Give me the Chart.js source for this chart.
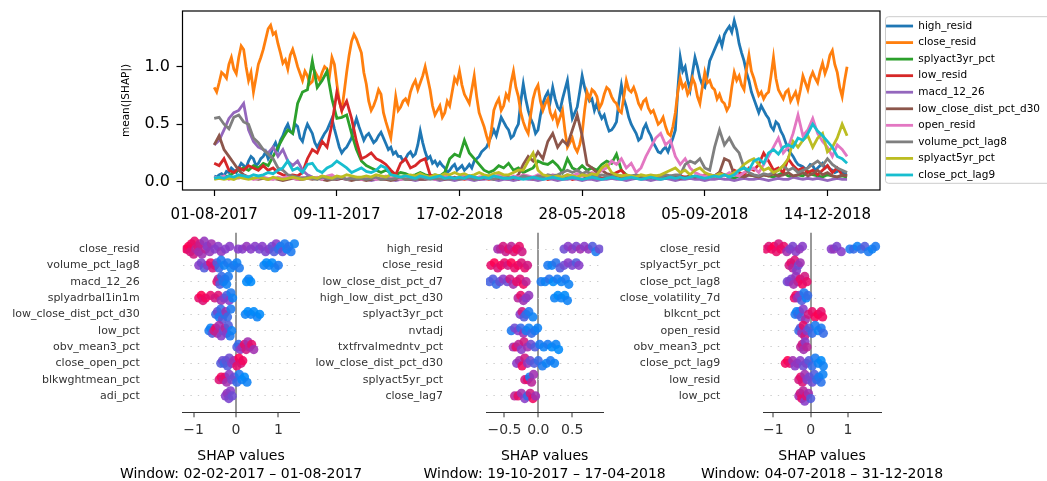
<!DOCTYPE html>
<html>
<head>
<meta charset="utf-8">
<script src="https://cdn.jsdelivr.net/npm/chart.js@4.4.0/dist/chart.umd.min.js"></script>
<style>
  body { margin: 0; background: #fff; overflow: hidden; }
  #page { position: relative; width: 1047px; height: 481px; overflow: hidden; background: #fff; }
  canvas { position: absolute; }
</style>
</head>
<body>
<div id="page">
  <canvas id="trend" width="1100" height="240" style="left:0;top:0"></canvas>
  <canvas id="win1" width="380" height="260" style="left:0;top:225px"></canvas>
  <canvas id="win2" width="380" height="260" style="left:300px;top:225px"></canvas>
  <canvas id="win3" width="447" height="260" style="left:600px;top:225px"></canvas>
</div>
<script>
// ---- top chart: rolling mean(|SHAP|) from 01-08-2017 (day 0) to 31-12-2018 (day 516) ----
// high_resid and close_resid are read every 2 days, the others every 4 days
var tickDays = [0, 100, 200, 300, 400, 500];
var tickDates = ["01-08-2017", "09-11-2017", "17-02-2018", "28-05-2018", "05-09-2018", "14-12-2018"];
var yTicks = [0, 0.5, 1.0];

var highResid = [
  0.05, 0.04, 0.06, 0.07, 0.05, 0.09, 0.08, 0.12, 0.1, 0.08, 0.12, 0.16, 0.14, 0.12, 0.18, 0.22, 0.2, 0.14, 0.16, 0.2,
  0.22, 0.26, 0.2, 0.24, 0.3, 0.34, 0.28, 0.36, 0.4, 0.46, 0.5, 0.44, 0.42, 0.5, 0.48, 0.38, 0.35, 0.44, 0.5, 0.46,
  0.42, 0.34, 0.3, 0.34, 0.38, 0.42, 0.45, 0.5, 0.55, 0.46, 0.38, 0.3, 0.25, 0.28, 0.3, 0.34, 0.38, 0.48, 0.55, 0.48,
  0.42, 0.36, 0.4, 0.42, 0.38, 0.34, 0.36, 0.4, 0.43, 0.38, 0.33, 0.28, 0.3, 0.24, 0.26, 0.22, 0.22, 0.18, 0.2, 0.24,
  0.26, 0.22, 0.24, 0.32, 0.44, 0.34, 0.26, 0.2, 0.22, 0.16, 0.18, 0.14, 0.17, 0.14, 0.12, 0.08, 0.1, 0.13, 0.15, 0.1,
  0.12, 0.14, 0.1, 0.12, 0.15, 0.12, 0.18, 0.2, 0.22, 0.26, 0.28, 0.3, 0.35, 0.4, 0.45, 0.4, 0.48, 0.56, 0.52, 0.48,
  0.45, 0.38, 0.4, 0.46, 0.5, 0.7, 0.85, 0.72, 0.62, 0.55, 0.5, 0.42, 0.45, 0.58, 0.68, 0.74, 0.78, 0.7, 0.82, 0.72,
  0.65, 0.62, 0.72, 0.8, 0.88, 0.7, 0.55, 0.6, 0.65, 0.78, 0.92, 0.82, 0.75, 0.7, 0.72, 0.62, 0.68, 0.6, 0.55, 0.58,
  0.5, 0.44, 0.45, 0.48, 0.52, 0.7, 0.84, 0.72, 0.65, 0.56, 0.5, 0.46, 0.42, 0.36, 0.38, 0.46, 0.5, 0.44, 0.4, 0.34,
  0.3, 0.26, 0.25, 0.28, 0.3, 0.26, 0.32, 0.38, 0.45, 0.8, 1.08, 0.96, 1.0, 0.88, 0.8, 0.95, 1.08, 1.0, 0.9, 0.84,
  0.82, 0.92, 1.05, 1.1, 1.15, 1.2, 1.25, 1.18, 1.28, 1.32, 1.35, 1.3, 1.4, 1.32, 1.2, 1.12, 1.05, 0.95, 0.88, 0.78,
  0.72, 0.66, 0.6, 0.66, 0.62, 0.58, 0.55, 0.48, 0.45, 0.52, 0.5, 0.44, 0.4, 0.34, 0.28, 0.25, 0.22, 0.18, 0.15, 0.14,
  0.13, 0.11, 0.12, 0.15, 0.14, 0.1, 0.12, 0.14, 0.16, 0.12, 0.14, 0.11, 0.1, 0.08, 0.09, 0.1, 0.08, 0.07, 0.07
];
var closeResid = [
  0.82, 0.78, 0.86, 0.95, 0.93, 0.9, 1.02, 1.08, 0.98, 0.94, 1.08, 1.18, 1.15, 1.0, 0.88, 0.95, 0.78, 0.9, 1.02, 1.08,
  1.15, 1.24, 1.33, 1.36, 1.28, 1.3, 1.2, 1.12, 1.03, 1.06, 0.98, 1.1, 1.15, 1.08, 1.0, 0.94, 0.88, 0.96, 0.92, 0.85,
  0.87, 0.96, 0.92, 0.88, 0.95, 1.0, 0.98, 0.92, 1.08, 1.02, 0.85, 0.7, 0.62, 0.78, 0.95, 1.1, 1.22, 1.28, 1.24, 1.18,
  1.12, 0.95, 0.85, 0.7, 0.62, 0.66, 0.72, 0.8, 0.76, 0.6, 0.52, 0.45, 0.38, 0.55, 0.74, 0.62, 0.65, 0.7, 0.72, 0.68,
  0.78, 0.84, 0.88, 0.8, 0.86, 0.92, 1.0, 0.9, 0.8, 0.66, 0.58, 0.62, 0.66, 0.56, 0.6, 0.7, 0.66, 0.78, 0.9, 0.86,
  0.96, 0.84, 0.76, 0.72, 0.68, 0.8, 0.92, 0.74, 0.6, 0.54, 0.48, 0.4, 0.33, 0.45, 0.62, 0.68, 0.72, 0.62, 0.66, 0.76,
  0.72, 0.86, 0.96, 0.82, 0.74, 0.6, 0.52, 0.46, 0.42, 0.58, 0.72, 0.8, 0.84, 0.7, 0.62, 0.68, 0.72, 0.6, 0.55, 0.6,
  0.5, 0.56, 0.62, 0.44, 0.3, 0.34, 0.38, 0.3, 0.26, 0.32, 0.42, 0.62, 0.78, 0.72, 0.8, 0.78, 0.74, 0.64, 0.68, 0.76,
  0.82, 0.8, 0.74, 0.7, 0.68, 0.62, 0.6, 0.74, 0.88, 0.8, 0.78, 0.82, 0.76, 0.68, 0.64, 0.7, 0.72, 0.64, 0.6, 0.62,
  0.56, 0.5, 0.52, 0.56, 0.48, 0.42, 0.4, 0.48, 0.6, 0.78, 0.9, 0.82, 0.85, 0.76, 0.8, 0.9, 0.85, 0.74, 0.68, 0.82,
  0.95, 0.86, 0.88, 0.82, 0.8, 0.72, 0.76, 0.7, 0.68, 0.62, 0.66, 0.82, 0.95, 0.88, 0.92, 0.84, 0.8, 0.98, 1.1, 0.96,
  0.9, 0.82, 0.75, 0.78, 0.72, 0.76, 0.78, 0.92, 1.08, 0.9, 0.8, 0.76, 0.72, 0.78, 0.8, 0.7, 0.74, 0.78, 0.7, 0.8,
  0.92, 0.86, 0.8, 0.9, 0.95, 0.9, 0.86, 0.96, 1.03, 0.94, 1.0, 1.1, 1.14, 1.02, 0.95, 0.82, 0.74, 0.88, 1.0
];
var splyact3yrPct = [
  0.03, 0.03, 0.04, 0.05, 0.08, 0.1, 0.12, 0.1, 0.14, 0.12,
  0.16, 0.14, 0.22, 0.3, 0.38, 0.45, 0.42, 0.68, 0.78, 0.8,
  1.05, 0.82, 0.88, 0.96, 0.72, 0.55, 0.56, 0.58, 0.42, 0.28,
  0.18, 0.14, 0.12, 0.1, 0.08, 0.1, 0.08, 0.06, 0.08, 0.07,
  0.05, 0.06, 0.08, 0.06, 0.05, 0.06, 0.05, 0.08, 0.2, 0.24,
  0.22, 0.36, 0.25, 0.2, 0.15, 0.1, 0.08, 0.1, 0.14, 0.12,
  0.16, 0.1, 0.12, 0.08, 0.1, 0.12, 0.18, 0.16, 0.15, 0.18,
  0.14, 0.08, 0.2, 0.12, 0.1, 0.14, 0.1, 0.12, 0.1, 0.15,
  0.18, 0.16, 0.24, 0.1, 0.06, 0.04, 0.04, 0.03, 0.03, 0.04,
  0.03, 0.03, 0.04, 0.03, 0.03, 0.04, 0.03, 0.05, 0.04, 0.03,
  0.04, 0.03, 0.05, 0.04, 0.06, 0.04, 0.03, 0.05, 0.04, 0.06,
  0.05, 0.04, 0.06, 0.05, 0.04, 0.06, 0.08, 0.05, 0.04, 0.06,
  0.05, 0.09, 0.06, 0.05, 0.04, 0.06, 0.05, 0.04, 0.05, 0.04
];
var lowResid = [
  0.16, 0.14, 0.2, 0.1, 0.08, 0.12, 0.1, 0.14, 0.12, 0.1,
  0.14, 0.1, 0.12, 0.08, 0.06, 0.05, 0.06, 0.05, 0.08, 0.2,
  0.28, 0.25, 0.35, 0.3, 0.5, 0.78, 0.62, 0.7, 0.55, 0.35,
  0.2, 0.22, 0.25, 0.2, 0.18, 0.15, 0.1, 0.06, 0.16, 0.2,
  0.12, 0.14, 0.18, 0.2, 0.06, 0.04, 0.03, 0.04, 0.03, 0.02,
  0.03, 0.02, 0.03, 0.04, 0.02, 0.03, 0.02, 0.03, 0.02, 0.03,
  0.02, 0.03, 0.02, 0.04, 0.03, 0.02, 0.03, 0.04, 0.02, 0.03,
  0.02, 0.03, 0.04, 0.02, 0.03, 0.02, 0.04, 0.03, 0.05, 0.03,
  0.04, 0.06, 0.08, 0.1, 0.05, 0.04, 0.03, 0.05, 0.04, 0.03,
  0.04, 0.03, 0.05, 0.04, 0.03, 0.05, 0.04, 0.03, 0.05, 0.04,
  0.06, 0.04, 0.05, 0.08, 0.06, 0.05, 0.1, 0.08, 0.06, 0.12,
  0.1, 0.15, 0.25, 0.18, 0.1, 0.12, 0.08, 0.2, 0.14, 0.1,
  0.12, 0.08, 0.1, 0.06, 0.1, 0.14, 0.08, 0.12, 0.06, 0.05
];
var macd1226 = [
  0.32, 0.36, 0.45, 0.55, 0.6, 0.62, 0.68, 0.45, 0.35, 0.3,
  0.28, 0.25, 0.3, 0.22, 0.28, 0.18, 0.14, 0.18, 0.1, 0.06,
  0.04, 0.03, 0.05, 0.03, 0.04, 0.02, 0.03, 0.02, 0.03, 0.02,
  0.03, 0.02, 0.01, 0.02, 0.03, 0.02, 0.02, 0.01, 0.02, 0.03,
  0.02, 0.01, 0.02, 0.02, 0.03, 0.02, 0.01, 0.02, 0.02, 0.01,
  0.02, 0.03, 0.02, 0.01, 0.02, 0.02, 0.03, 0.02, 0.01, 0.02,
  0.02, 0.01, 0.02, 0.03, 0.02, 0.02, 0.01, 0.02, 0.03, 0.02,
  0.01, 0.02, 0.02, 0.03, 0.02, 0.01, 0.02, 0.02, 0.01, 0.02,
  0.02, 0.03, 0.02, 0.02, 0.01, 0.02, 0.03, 0.02, 0.02, 0.01,
  0.02, 0.02, 0.03, 0.02, 0.01, 0.02, 0.02, 0.03, 0.02, 0.02,
  0.01, 0.02, 0.02, 0.03, 0.02, 0.02, 0.01, 0.02, 0.03, 0.02,
  0.02, 0.03, 0.02, 0.01, 0.02, 0.03, 0.02, 0.02, 0.04, 0.03,
  0.02, 0.03, 0.02, 0.03, 0.02, 0.01, 0.02, 0.03, 0.02, 0.02
];
var lowCloseDistPctD30 = [
  0.32, 0.4, 0.28, 0.22, 0.16, 0.1, 0.06, 0.04, 0.03, 0.02,
  0.03, 0.02, 0.03, 0.02, 0.01, 0.02, 0.03, 0.02, 0.02, 0.03,
  0.02, 0.03, 0.02, 0.01, 0.02, 0.02, 0.03, 0.02, 0.01, 0.02,
  0.02, 0.01, 0.02, 0.03, 0.02, 0.02, 0.01, 0.02, 0.03, 0.02,
  0.02, 0.03, 0.02, 0.02, 0.03, 0.04, 0.03, 0.02, 0.03, 0.04,
  0.03, 0.04, 0.05, 0.03, 0.04, 0.03, 0.05, 0.04, 0.03, 0.05,
  0.04, 0.03, 0.06, 0.15, 0.22, 0.18, 0.26, 0.2, 0.35, 0.42,
  0.3, 0.36, 0.32, 0.45, 0.58, 0.4, 0.15, 0.12, 0.08, 0.1,
  0.07, 0.06, 0.05, 0.04, 0.05, 0.04, 0.03, 0.04, 0.03, 0.04,
  0.03, 0.04, 0.03, 0.05, 0.04, 0.03, 0.04, 0.05, 0.04, 0.05,
  0.04, 0.06, 0.05, 0.08, 0.2, 0.18, 0.06, 0.05, 0.04, 0.06,
  0.05, 0.04, 0.06, 0.05, 0.07, 0.05, 0.06, 0.08, 0.05, 0.06,
  0.08, 0.05, 0.07, 0.1, 0.06, 0.08, 0.05, 0.04, 0.06, 0.05
];
var openResid = [
  0.04, 0.03, 0.05, 0.02, 0.04, 0.03, 0.05, 0.04, 0.02, 0.03,
  0.04, 0.03, 0.02, 0.04, 0.03, 0.05, 0.03, 0.02, 0.04, 0.03,
  0.03, 0.04, 0.02, 0.05, 0.06, 0.03, 0.04, 0.02, 0.03, 0.04,
  0.02, 0.03, 0.04, 0.02, 0.03, 0.05, 0.03, 0.04, 0.02, 0.03,
  0.05, 0.04, 0.06, 0.03, 0.04, 0.02, 0.03, 0.05, 0.04, 0.03,
  0.04, 0.06, 0.05, 0.03, 0.04, 0.05, 0.03, 0.04, 0.06, 0.04,
  0.03, 0.05, 0.04, 0.06, 0.05, 0.04, 0.06, 0.05, 0.04, 0.06,
  0.05, 0.04, 0.06, 0.05, 0.07, 0.05, 0.06, 0.08, 0.06, 0.1,
  0.12, 0.18, 0.15, 0.2, 0.12, 0.16, 0.08, 0.12, 0.22, 0.3,
  0.38, 0.42, 0.32, 0.36, 0.22, 0.15, 0.2, 0.12, 0.08, 0.06,
  0.05, 0.04, 0.05, 0.06, 0.05, 0.08, 0.06, 0.05, 0.08, 0.1,
  0.12, 0.08, 0.15, 0.22, 0.3, 0.38, 0.25, 0.3, 0.42, 0.58,
  0.4, 0.45, 0.55, 0.42, 0.35, 0.3, 0.22, 0.32, 0.28, 0.22
];
var volumePctLag8 = [
  0.55, 0.56, 0.5, 0.46, 0.56, 0.58, 0.52, 0.5, 0.38, 0.34,
  0.28, 0.24, 0.2, 0.12, 0.1, 0.06, 0.05, 0.04, 0.03, 0.04,
  0.03, 0.02, 0.04, 0.03, 0.02, 0.03, 0.04, 0.02, 0.03, 0.02,
  0.03, 0.02, 0.03, 0.04, 0.02, 0.03, 0.02, 0.03, 0.04, 0.02,
  0.03, 0.02, 0.04, 0.03, 0.02, 0.03, 0.02, 0.03, 0.02, 0.03,
  0.02, 0.03, 0.04, 0.02, 0.03, 0.04, 0.03, 0.02, 0.04, 0.03,
  0.03, 0.04, 0.03, 0.05, 0.04, 0.03, 0.05, 0.04, 0.06, 0.05,
  0.06, 0.08, 0.1, 0.08, 0.1, 0.07, 0.09, 0.06, 0.05, 0.06,
  0.05, 0.04, 0.06, 0.05, 0.04, 0.05, 0.06, 0.05, 0.04, 0.05,
  0.05, 0.04, 0.06, 0.05, 0.06, 0.06, 0.15, 0.18, 0.16, 0.2,
  0.12, 0.1, 0.3, 0.45, 0.32, 0.38, 0.3, 0.25, 0.12, 0.08,
  0.06, 0.05, 0.07, 0.06, 0.08, 0.1, 0.14, 0.1, 0.12, 0.08,
  0.1, 0.12, 0.15, 0.18, 0.14, 0.2, 0.15, 0.12, 0.1, 0.08
];
var splyact5yrPct = [
  0.02, 0.03, 0.02, 0.03, 0.02, 0.04, 0.03, 0.02, 0.03, 0.04,
  0.03, 0.02, 0.04, 0.03, 0.02, 0.03, 0.04, 0.03, 0.02, 0.03,
  0.04, 0.03, 0.05, 0.04, 0.03, 0.05, 0.04, 0.06, 0.05, 0.04,
  0.04, 0.05, 0.04, 0.06, 0.05, 0.04, 0.06, 0.05, 0.04, 0.05,
  0.06, 0.05, 0.07, 0.05, 0.04, 0.06, 0.05, 0.07, 0.06, 0.08,
  0.06, 0.07, 0.05, 0.06, 0.08, 0.06, 0.05, 0.07, 0.08, 0.06,
  0.06, 0.08, 0.1, 0.1, 0.18, 0.25, 0.1, 0.06, 0.05, 0.04,
  0.05, 0.04, 0.06, 0.05, 0.04, 0.06, 0.05, 0.07, 0.06, 0.12,
  0.15, 0.08, 0.06, 0.05, 0.06, 0.05, 0.04, 0.06, 0.05, 0.06,
  0.05, 0.06, 0.08, 0.1, 0.12, 0.08, 0.1, 0.06, 0.1, 0.12,
  0.08, 0.06, 0.05, 0.07, 0.06, 0.05, 0.08, 0.1, 0.15, 0.18,
  0.2, 0.15, 0.1, 0.12, 0.08, 0.1, 0.14, 0.2, 0.35, 0.3,
  0.36, 0.4, 0.3, 0.38, 0.42, 0.26, 0.3, 0.38, 0.5, 0.4
];
var closePctLag9 = [
  0.03, 0.04, 0.03, 0.05, 0.04, 0.06, 0.05, 0.04, 0.06, 0.05,
  0.06, 0.08, 0.07, 0.1, 0.12, 0.18, 0.1, 0.12, 0.08, 0.15,
  0.16, 0.1, 0.08, 0.12, 0.14, 0.18, 0.15, 0.12, 0.08, 0.1,
  0.12, 0.09, 0.08, 0.1, 0.14, 0.12, 0.06, 0.05, 0.04, 0.05,
  0.04, 0.03, 0.05, 0.04, 0.03, 0.04, 0.05, 0.03, 0.04, 0.03,
  0.04, 0.03, 0.05, 0.04, 0.03, 0.04, 0.03, 0.05, 0.04, 0.03,
  0.03, 0.04, 0.03, 0.02, 0.03, 0.04, 0.03, 0.02, 0.03, 0.04,
  0.03, 0.02, 0.03, 0.04, 0.03, 0.02, 0.03, 0.04, 0.03, 0.02,
  0.03, 0.04, 0.03, 0.02, 0.03, 0.04, 0.03, 0.02, 0.03, 0.04,
  0.03, 0.02, 0.03, 0.04, 0.03, 0.04, 0.03, 0.04, 0.05, 0.04,
  0.03, 0.04, 0.05, 0.04, 0.06, 0.04, 0.06, 0.1, 0.12, 0.1,
  0.18, 0.2, 0.16, 0.25, 0.28, 0.24, 0.3, 0.32, 0.3, 0.38,
  0.36, 0.42, 0.5, 0.44, 0.4, 0.35, 0.3, 0.22, 0.2, 0.16
];

var seriesNames = ["high_resid", "close_resid", "splyact3yr_pct", "low_resid", "macd_12_26",
  "low_close_dist_pct_d30", "open_resid", "volume_pct_lag8", "splyact5yr_pct", "close_pct_lag9"];
var seriesValues = [highResid, closeResid, splyact3yrPct, lowResid, macd1226,
  lowCloseDistPctD30, openResid, volumePctLag8, splyact5yrPct, closePctLag9];
var seriesStepDays = [2, 2, 4, 4, 4, 4, 4, 4, 4, 4];
var seriesColors = ["#1f77b4", "#ff7f0e", "#2ca02c", "#d62728", "#9467bd",
  "#8c564b", "#e377c2", "#7f7f7f", "#bcbd22", "#17becf"];

// ---- bottom: SHAP beeswarm per window, [shap value, feature value 0..1] ----
var win1Features = ["close_resid", "volume_pct_lag8", "macd_12_26", "splyadrbal1in1m", "low_close_dist_pct_d30",
  "low_pct", "obv_mean3_pct", "close_open_pct", "blkwghtmean_pct", "adi_pct"];
var win1Points = [
  [[-1.18,0.95],[-1.15,0.9],[-1.12,1],[-1.08,0.85],[-1.05,0.95],[-1.0,0.8],[-0.98,0.9],[-0.95,0.7],[-0.9,0.85],[-0.88,0.6],
   [-0.85,0.75],[-0.8,0.6],[-0.75,0.55],[-0.72,0.7],[-0.68,0.5],[-0.62,0.55],[-0.58,0.6],[-0.5,0.5],[-0.42,0.5],[-0.35,0.55],
   [-0.25,0.5],[-0.15,0.5],[0.05,0.5],[0.15,0.5],[0.25,0.55],[0.35,0.5],[0.45,0.5],[0.55,0.45],[0.62,0.5],[0.7,0.45],
   [0.78,0.5],[0.85,0.4],[0.9,0.3],[0.95,0.5],[1.0,0.2],[1.05,0.1],[1.1,0.4],[1.15,0.1],[1.2,0.05],[1.25,0.15],[1.3,0.1],[1.38,0.05]],
  [[-0.88,0.5],[-0.82,0.45],[-0.75,0.3],[-0.68,0.5],[-0.6,0.9],[-0.55,0.8],[-0.5,0.85],[-0.45,0.3],[-0.4,0.2],[-0.35,0.1],
   [-0.28,0.05],[-0.2,0.1],[-0.12,0.05],[-0.05,0.1],[0.02,0.05],[0.08,0.1],[0.66,0.05],[0.72,0.0],[0.78,0.05],[0.85,0.0],[0.92,0.05],[1.0,0.1]],
  [[-0.45,0.9],[-0.42,0.7],[-0.38,0.3],[-0.34,0.2],[-0.3,0.1],[-0.26,0.15],[-0.22,0.05],[-0.18,0.1],[0.25,0.0],[0.3,0.05],[0.35,0.0]],
  [[-0.88,0.9],[-0.82,1],[-0.78,0.85],[-0.72,0.95],[-0.6,0.9],[-0.5,0.8],[-0.42,0.85],[-0.35,0.6],[-0.28,0.5],[-0.22,0.3],
   [-0.16,0.5],[-0.12,0.1],[-0.08,0.05]],
  [[-0.48,0.2],[-0.44,0.4],[-0.4,0.1],[-0.36,0.2],[-0.32,0.35],[-0.28,0.15],[-0.24,0.6],[-0.2,0.2],[-0.12,0.1],
   [0.22,0.05],[0.28,0.0],[0.35,0.05],[0.42,0.0],[0.5,0.05],[0.56,0.0]],
  [[-0.64,0.1],[-0.6,0.05],[-0.56,0.3],[-0.52,0.8],[-0.48,0.9],[-0.44,0.7],[-0.4,0.6],[-0.35,0.5],[-0.3,0.4],[-0.26,0.7],
   [-0.22,0.5],[-0.18,0.3],[-0.14,0.1],[-0.1,0.05]],
  [[0.02,0.3],[0.06,0.2],[0.1,0.5],[0.15,0.6],[0.2,0.9],[0.24,0.8],[0.28,0.6],[0.32,0.7],[0.37,0.9],[0.42,0.6]],
  [[-0.36,0.3],[-0.32,0.4],[-0.28,0.2],[-0.24,0.35],[-0.2,0.3],[-0.16,0.4],[-0.1,0.5],[-0.05,0.6],[0.02,0.9],[0.07,1],[0.12,0.85],[0.16,0.95]],
  [[-0.4,0.85],[-0.35,0.95],[-0.3,0.8],[-0.26,0.9],[-0.22,0.6],[-0.16,0.5],[-0.1,0.45],[-0.04,0.4],[0.02,0.2],[0.08,0.1],[0.14,0.05],[0.2,0.0],[0.26,0.05]],
  [[-0.25,0.5],[-0.21,0.55],[-0.17,0.45],[-0.13,0.5],[-0.09,0.4]]
];

var win2Features = ["high_resid", "close_resid", "low_close_dist_pct_d7", "high_low_dist_pct_d30", "splyact3yr_pct",
  "nvtadj", "txtfrvalmedntv_pct", "low_close_dist_pct_d30", "splyact5yr_pct", "close_lag7"];
var win2Points = [
  [[-0.6,0.6],[-0.56,0.7],[-0.52,0.8],[-0.48,0.75],[-0.44,0.9],[-0.4,0.7],[-0.36,0.85],[-0.32,0.95],[-0.28,0.9],[-0.24,0.8],
   [0.38,0.4],[0.44,0.5],[0.5,0.55],[0.56,0.45],[0.62,0.6],[0.68,0.5],[0.74,0.55],[0.8,0.3],[0.85,0.1],[0.9,0.4]],
  [[-0.7,0.9],[-0.65,1],[-0.6,0.85],[-0.55,0.95],[-0.5,0.9],[-0.45,0.8],[-0.4,1],[-0.35,0.9],[-0.3,0.95],[-0.25,0.85],[-0.2,0.9],[-0.16,0.8],
   [0.14,0.1],[0.2,0.05],[0.26,0.15],[0.32,0.3],[0.38,0.4],[0.44,0.5],[0.5,0.45],[0.56,0.3],[0.6,0.5]],
  [[-0.72,0.25],[-0.67,0.3],[-0.62,0.2],[-0.57,0.35],[-0.52,0.5],[-0.46,0.4],[-0.42,0.8],[-0.37,0.6],[-0.32,0.9],[-0.27,0.85],[-0.22,0.95],[-0.18,0.7],
   [0.04,0.1],[0.1,0.05],[0.16,0.15],[0.22,0.0],[0.28,0.1],[0.34,0.05],[0.4,0.1],[0.45,0.05]],
  [[-0.3,0.7],[-0.26,0.9],[-0.22,0.6],[-0.18,0.5],[-0.14,0.55],[0.24,0.05],[0.29,0.0],[0.34,0.05],[0.39,0.0],[0.43,0.05]],
  [[-0.27,0.5],[-0.24,0.8],[-0.21,0.3],[-0.18,0.2],[-0.14,0.1],[-0.08,0.05]],
  [[-0.4,0.1],[-0.35,0.4],[-0.3,0.5],[-0.26,0.2],[-0.22,0.6],[-0.18,0.1],[-0.14,0.05],[-0.1,0.2],[-0.05,0.1],[-0.01,0.05]],
  [[-0.37,0.6],[-0.33,0.9],[-0.29,0.7],[-0.25,0.5],[-0.21,0.8],[-0.16,0.6],[-0.11,0.4],[-0.05,0.3],[0.02,0.1],[0.08,0.05],[0.14,0.1],[0.2,0.0],[0.26,0.05],[0.3,0.0]],
  [[-0.32,0.5],[-0.28,0.6],[-0.24,0.95],[-0.2,0.8],[-0.16,0.55],[-0.12,0.4],[-0.06,0.3],[0.0,0.2],[0.06,0.1],[0.12,0.05],[0.18,0.1],[0.24,0.05]],
  [[-0.2,0.8],[-0.16,0.9],[-0.13,0.1],[-0.1,0.7],[-0.07,0.6]],
  [[-0.35,0.7],[-0.3,0.9],[-0.25,0.6],[-0.2,0.5],[-0.16,0.2],[-0.12,0.8],[-0.08,0.95],[-0.04,0.6]]
];

var win3Features = ["close_resid", "splyact5yr_pct", "close_pct_lag8", "close_volatility_7d", "blkcnt_pct",
  "open_resid", "obv_mean3_pct", "close_pct_lag9", "low_resid", "low_pct"];
var win3Points = [
  [[-1.2,0.9],[-1.12,0.85],[-1.05,0.95],[-0.98,1],[-0.92,0.9],[-0.86,0.8],[-0.8,0.95],[-0.72,0.9],[-0.64,0.6],[-0.56,0.5],
   [-0.48,0.45],[-0.4,0.5],[-0.3,0.55],[-0.22,0.5],[0.55,0.5],[0.62,0.55],[0.7,0.45],[0.82,0.5],[1.05,0.1],[1.15,0.2],
   [1.25,0.05],[1.35,0.15],[1.45,0.3],[1.55,0.1],[1.65,0.05],[1.74,0.1]],
  [[-0.58,0.8],[-0.53,0.9],[-0.48,0.7],[-0.43,0.85],[-0.38,0.5],[-0.33,0.4],[-0.28,0.6]],
  [[-0.63,0.4],[-0.58,0.5],[-0.52,0.45],[-0.46,0.6],[-0.4,0.55],[-0.34,0.7],[-0.28,0.9],[-0.22,0.95],[-0.16,0.8],[-0.1,0.9]],
  [[-0.44,0.9],[-0.4,0.95],[-0.36,0.6],[-0.3,0.5],[-0.24,0.3],[-0.18,0.1],[-0.12,0.05],[-0.08,0.2]],
  [[-0.42,0.1],[-0.38,0.05],[-0.34,0.2],[-0.3,0.1],[-0.25,0.3],[-0.2,0.5],[-0.14,0.6],[-0.06,0.8],[0.04,0.9],[0.12,0.95],[0.2,1],[0.28,0.9],[0.32,0.95]],
  [[-0.32,0.2],[-0.28,0.3],[-0.24,0.6],[-0.2,0.9],[-0.16,0.8],[-0.1,0.5],[-0.04,0.3],[0.04,0.2],[0.12,0.1],[0.2,0.05],[0.28,0.1],[0.34,0.2]],
  [[-0.27,0.7],[-0.23,0.8],[-0.19,0.6],[-0.15,0.5],[-0.1,0.7]],
  [[-0.68,0.95],[-0.62,1],[-0.56,0.9],[-0.48,0.6],[-0.42,0.5],[-0.36,0.55],[-0.28,0.5],[-0.2,0.4],[-0.12,0.45],[-0.05,0.3],
   [0.04,0.2],[0.12,0.1],[0.2,0.05],[0.28,0.0],[0.34,0.05]],
  [[-0.32,0.8],[-0.27,0.9],[-0.22,0.85],[-0.16,0.6],[-0.1,0.5],[-0.04,0.45],[0.04,0.4],[0.1,0.3],[0.16,0.2],[0.22,0.1],[0.28,0.15],[0.33,0.05]],
  [[-0.32,0.6],[-0.28,0.8],[-0.24,0.9],[-0.2,0.7],[-0.16,0.5],[-0.12,0.85],[-0.06,0.6],[0.0,0.3]]
];

Chart.defaults.font.family = '"DejaVu Sans", sans-serif';

// frame around the plot area (matplotlib box)
var plotFrame = {
  id: "plotFrame",
  afterDatasetsDraw: function (chart) {
    var a = chart.chartArea, ctx = chart.ctx;
    ctx.save();
    ctx.strokeStyle = "#000";
    ctx.lineWidth = 1.2;
    ctx.strokeRect(a.left, a.top, a.right - a.left, a.bottom - a.top);
    ctx.restore();
  }
};

// light rounded frame around the legend
var legendFrame = {
  id: "legendFrame",
  beforeDraw: function (chart) {
    var lg = chart.legend, a = chart.chartArea, ctx = chart.ctx;
    if (!lg) return;
    ctx.save();
    ctx.strokeStyle = "#cccccc";
    ctx.lineWidth = 1;
    ctx.beginPath();
    ctx.roundRect(lg.left + 5.5, a.top + 5.7, lg.width + 30, a.bottom - a.top - 12.4, 3);
    ctx.stroke();
    ctx.restore();
  }
};

// vertical scales add tick padding above and below; drop it so the plot box sits where the layout says
function fixVertical(width) {
  return function (s) {
    s.width = width;
    s.paddingTop = 0;
    s.paddingBottom = 0;
  };
}

var trendSets = seriesNames.map(function (name, i) {
  return {
    label: name,
    data: seriesValues[i].map(function (v, k) { return { x: k * seriesStepDays[i], y: v }; }),
    borderColor: seriesColors[i],
    backgroundColor: seriesColors[i],
    borderWidth: 2.8,
    pointRadius: 0,
    fill: false,
    order: seriesNames.length - i
  };
});

var trend = new Chart(document.getElementById("trend"), {
  type: "line",
  data: { datasets: trendSets },
  plugins: [plotFrame, legendFrame],
  options: {
    responsive: false,
    animation: false,
    devicePixelRatio: 1,
    layout: { padding: { left: 110, top: 11, right: 0, bottom: 0 } },
    plugins: {
      tooltip: { enabled: false },
      legend: {
        position: "right",
        align: "center",
        fullSize: false,
        labels: {
          usePointStyle: true,
          pointStyle: "line",
          pointStyleWidth: 27,
          font: { size: 10.5 },
          color: "#000",
          padding: 6.05,
          sort: function (a, b) { return a.datasetIndex - b.datasetIndex; }
        }
      }
    },
    scales: {
      x: {
        type: "linear",
        min: -25.85,
        max: 542.85,
        afterBuildTicks: function (s) { s.ticks = tickDays.map(function (v) { return { value: v }; }); },
        ticks: {
          autoSkip: false,
          maxRotation: 0,
          padding: 10,
          color: "#000",
          font: { size: 15 },
          callback: function (v, i) { return tickDates[i]; }
        },
        grid: { drawOnChartArea: false, tickLength: 6, tickColor: "#000", tickWidth: 1.2 },
        border: { display: false },
        afterFit: function (s) { s.height = 50; }
      },
      y: {
        min: -0.072,
        max: 1.484,
        afterBuildTicks: function (s) { s.ticks = yTicks.map(function (v) { return { value: v }; }); },
        ticks: {
          padding: 6.5,
          color: "#000",
          font: { size: 16 },
          callback: function (v) { return v.toFixed(1); }
        },
        grid: { drawOnChartArea: false, tickLength: 6, tickColor: "#000", tickWidth: 1.2 },
        border: { display: false },
        title: { display: true, text: "mean(|SHAP|)", color: "#000", font: { size: 10.5 }, padding: { top: 9.7, bottom: 0 } },
        afterFit: fixVertical(72.5)
      }
    }
  }
});
// keep the right edge of the plot box at x = 880
var extra = trend.chartArea.right - 880;
if (Math.abs(extra) > 0.3) {
  trend.options.layout.padding.right = Math.max(0, extra);
  trend.update("none");
}

// ---- beeswarm panels ----
var shapStops = [[0, 138, 250], [136, 60, 200], [255, 0, 82]];
function shapColor(v) {
  var t = Math.max(0, Math.min(1, v)) * 2;
  var k = t < 1 ? 0 : 1;
  var f = t - k;
  var a = shapStops[k], b = shapStops[k + 1];
  var c = a.map(function (ch, j) { return Math.round(ch + (b[j] - ch) * f); });
  return "rgba(" + c[0] + "," + c[1] + "," + c[2] + ",0.88)";
}

// simple beeswarm stacking like shap: points in the same x bin alternate up and down
function swarm(rows, binWidth) {
  var out = [];
  rows.forEach(function (row, r) {
    var rowY = rows.length - 1 - r;
    var sorted = row.slice().sort(function (a, b) { return a[0] - b[0]; });
    var lastBin = null, layer = 0;
    sorted.forEach(function (p) {
      var bin = Math.round(p[0] / binWidth);
      if (bin !== lastBin) layer = 0;
      var off = Math.ceil(layer / 2) * (layer % 2 ? 1 : -1) * 0.16;
      out.push({ x: p[0], y: rowY + off, v: p[1] });
      layer++;
      lastBin = bin;
    });
  });
  return out;
}

var windowLabel = {
  id: "windowLabel",
  afterDraw: function (chart, args, opts) {
    if (!opts.text) return;
    var a = chart.chartArea, ctx = chart.ctx;
    ctx.save();
    ctx.font = '14px "DejaVu Sans"';
    ctx.fillStyle = "#000";
    ctx.textAlign = "center";
    ctx.textBaseline = "middle";
    ctx.fillText(opts.text, (a.left + a.right) / 2, chart.height - 11);
    ctx.restore();
  }
};

function makeSwarm(id, features, rows, xMin, xMax, xTicks, xTickText, windowText, yWidth, padRight) {
  var canvas = document.getElementById(id);
  var plotPx = canvas.width - yWidth - padRight;
  var pts = swarm(rows, 9 * (xMax - xMin) / plotPx);
  return new Chart(canvas, {
    type: "scatter",
    data: {
      datasets: [{
        data: pts.map(function (p) { return { x: p.x, y: p.y }; }),
        backgroundColor: pts.map(function (p) { return shapColor(p.v); }),
        pointRadius: 4.6,
        pointHoverRadius: 4.6,
        pointBorderWidth: 0
      }]
    },
    plugins: [windowLabel],
    options: {
      responsive: false,
      animation: false,
      devicePixelRatio: 1,
      layout: { padding: { left: 0, top: 7.7, right: padRight, bottom: 0 } },
      plugins: { legend: { display: false }, tooltip: { enabled: false }, windowLabel: { text: windowText } },
      scales: {
        x: {
          type: "linear",
          min: xMin,
          max: xMax,
          afterBuildTicks: function (s) { s.ticks = xTicks.map(function (v) { return { value: v }; }); },
          ticks: {
            autoSkip: false,
            maxRotation: 0,
            padding: 4.3,
            color: "#333",
            font: { size: 14 },
            callback: function (v, i) { return xTickText[i]; }
          },
          grid: {
            color: function (c) { return c.tick && c.tick.value === 0 ? "#999999" : "rgba(0,0,0,0)"; },
            lineWidth: 2,
            tickColor: "#333",
            tickLength: 5,
            tickWidth: 1
          },
          border: { display: true, color: "#333", width: 1 },
          title: { display: true, text: "SHAP values", color: "#000", font: { size: 14 }, padding: { top: 0, bottom: 20 } },
          afterFit: function (s) { s.height = 72.7; }
        },
        y: {
          min: -1,
          max: 10,
          afterBuildTicks: function (s) { s.ticks = features.map(function (f, i) { return { value: i }; }); },
          ticks: {
            autoSkip: false,
            padding: 43,
            color: "#333",
            font: { size: 11 },
            callback: function (v) { return features[features.length - 1 - v]; }
          },
          grid: { color: "#cccccc", lineWidth: 1, drawTicks: false },
          border: { display: false, dash: [1.4, 6] },
          afterFit: fixVertical(yWidth)
        }
      }
    }
  });
}

makeSwarm("win1", win1Features, win1Points, -1.259, 1.495, [-1, 0, 1], ["\u22121", "0", "1"],
  "Window: 02-02-2017 \u2013 01-08-2017", 182.7, 80.7);
makeSwarm("win2", win2Features, win2Points, -0.773, 0.96, [-0.5, 0, 0.5], ["\u22120.5", "0.0", "0.5"],
  "Window: 19-10-2017 \u2013 17-04-2018", 186, 76.7);
makeSwarm("win3", win3Features, win3Points, -1.271, 1.877, [-1, 0, 1], ["\u22121", "0", "1"],
  "Window: 04-07-2018 \u2013 31-12-2018", 163.3, 166.3);
</script>
</body>
</html>
